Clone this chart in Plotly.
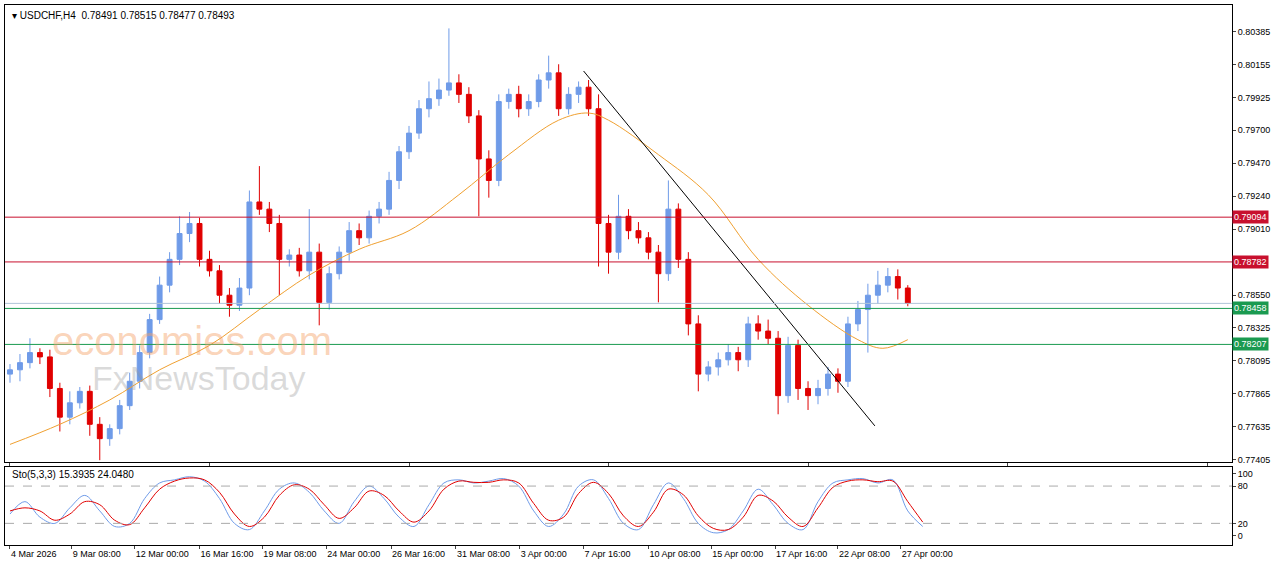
import plotly.graph_objects as go

# closing prices, one bar per 8h slot
closes = [0.7803, 0.7808, 0.7815, 0.7812, 0.7790, 0.7770, 0.7780, 0.7788, 0.7765, 0.7755,
          0.7762, 0.7778, 0.7795, 0.7815, 0.7838, 0.7862, 0.7880, 0.7898, 0.7905, 0.7880,
          0.7872, 0.7855, 0.7848, 0.7860, 0.7920, 0.7915, 0.7905, 0.7880, 0.7883, 0.7872,
          0.7885, 0.7850, 0.7870, 0.7885, 0.7900, 0.7895, 0.7910, 0.7915, 0.7935, 0.7955,
          0.7968, 0.7985, 0.7992, 0.7998, 0.8003, 0.7995, 0.7980, 0.7950, 0.7935, 0.7990,
          0.7995, 0.7985, 0.7990, 0.8005, 0.8010, 0.7985, 0.7995, 0.8000, 0.7985, 0.7905,
          0.7885, 0.7910, 0.7900, 0.7895, 0.7885, 0.7870, 0.7915, 0.7880, 0.7835, 0.7800,
          0.7805, 0.7810, 0.7815, 0.7810, 0.7835, 0.7830, 0.7825, 0.7785, 0.7820, 0.7790,
          0.7785, 0.7790, 0.7800, 0.7795, 0.7835, 0.7845, 0.7855, 0.7862, 0.7868, 0.7860,
          0.78493]
first_open = 0.7800
# wick sizes in pips above / below the body
wick_up = [4, 6, 10, 3, 5, 4, 8, 3, 4, 5, 3, 4, 6, 5, 4, 6, 5, 12, 8, 4,
           6, 4, 5, 7, 8, 25, 5, 6, 4, 5, 30, 6, 5, 4, 6, 5, 4, 5, 6, 4,
           5, 6, 12, 8, 38, 6, 5, 4, 6, 5, 4, 6, 5, 4, 12, 6, 5, 4, 5, 10,
           6, 15, 5, 6, 4, 5, 20, 4, 5, 6, 4, 5, 6, 4, 5, 6, 8, 5, 6, 4,
           5, 6, 5, 4, 5, 6, 8, 10, 6, 5, 2]
wick_dn = [6, 8, 4, 5, 6, 10, 5, 4, 8, 15, 5, 4, 3, 5, 4, 3, 5, 4, 6, 5,
           4, 6, 8, 4, 5, 4, 6, 25, 5, 4, 6, 16, 5, 4, 6, 5, 4, 5, 4, 6,
           5, 4, 6, 5, 4, 6, 5, 40, 12, 4, 5, 6, 5, 4, 6, 5, 4, 6, 5, 30,
           15, 5, 6, 4, 5, 20, 5, 6, 8, 12, 5, 6, 4, 8, 5, 6, 4, 13, 5, 8,
           10, 6, 5, 8, 4, 5, 30, 6, 5, 8, 2]

ma_x = [0, 5, 10, 15, 20, 25, 30, 35, 40, 45, 50, 55, 58, 60, 65, 70, 75, 80, 85, 87.5, 90]
ma_y = [0.7751, 0.7765, 0.7782, 0.7803, 0.7820, 0.7845, 0.7869, 0.7887, 0.7900, 0.7925,
        0.7953, 0.7977, 0.7982, 0.7977, 0.7953, 0.7925, 0.7880, 0.7848, 0.7824, 0.7818, 0.7824]

trend_x = [57.5, 86.7]
trend_y = [0.80113, 0.77639]

levels = [0.79094, 0.78782, 0.78458, 0.78207]
level_colors = ['#c8102e', '#c8102e', '#1a9a50', '#1a9a50']
last_price = 0.78493

stoch_main = [35, 55, 30, 20, 45, 65, 40, 15, 20, 60, 85, 90, 95, 88, 60, 20, 10, 40, 75, 85,
              70, 40, 20, 55, 80, 60, 30, 15, 50, 85, 90, 85, 88, 92, 80, 40, 15, 35, 80, 90,
              60, 20, 10, 50, 85, 60, 20, 5, 10, 40, 75, 50, 20, 10, 55, 85, 90, 92, 85, 90,
              40, 15]
stoch_signal = [40, 45, 40, 25, 35, 55, 50, 25, 18, 45, 75, 88, 93, 90, 70, 35, 15, 30, 65, 82,
                75, 50, 28, 45, 72, 65, 40, 22, 40, 75, 88, 86, 86, 90, 85, 52, 25, 30, 68, 86,
                68, 32, 15, 38, 75, 66, 32, 12, 10, 30, 65, 56, 30, 15, 45, 78, 88, 90, 87, 88,
                55, 22]
stoch_x = [i * 1.5 for i in range(len(stoch_main))]

tick_pos = [0, 6.2, 12.5, 19, 25.3, 31.7, 38.2, 44.7, 51.1, 57.5, 64, 70.3, 76.7, 83, 89.3]
tick_text = ['4 Mar 2026', '9 Mar 08:00', '12 Mar 00:00', '16 Mar 16:00', '19 Mar 08:00',
             '24 Mar 00:00', '26 Mar 16:00', '31 Mar 08:00', '3 Apr 00:00', '7 Apr 16:00',
             '10 Apr 08:00', '15 Apr 00:00', '17 Apr 16:00', '22 Apr 08:00', '27 Apr 00:00']
price_ticks = [0.80385, 0.80155, 0.79925, 0.79700, 0.79470, 0.79240, 0.79010,
               0.78550, 0.78325, 0.78095, 0.77865, 0.77635, 0.77405]

opens = [first_open] + closes[:-1]
highs = [max(o, c) + w / 10000 for o, c, w in zip(opens, closes, wick_up)]
lows = [min(o, c) - w / 10000 for o, c, w in zip(opens, closes, wick_dn)]
idx = list(range(len(closes)))

fig = go.Figure()
fig.add_trace(go.Candlestick(x=idx, open=opens, high=highs, low=lows, close=closes,
                             increasing=dict(line=dict(color='#6f9be8', width=1), fillcolor='#6f9be8'),
                             decreasing=dict(line=dict(color='#e00000', width=1), fillcolor='#e00000'),
                             whiskerwidth=0, xaxis='x', yaxis='y'))
fig.add_trace(go.Scatter(x=ma_x, y=ma_y, mode='lines', line=dict(color='#f0a030', width=1),
                         line_shape='spline', xaxis='x', yaxis='y'))
fig.add_trace(go.Scatter(x=trend_x, y=trend_y, mode='lines', line=dict(color='black', width=1),
                         xaxis='x', yaxis='y'))
fig.add_trace(go.Scatter(x=stoch_x, y=stoch_main, mode='lines', line=dict(color='#6f9be8', width=1),
                         line_shape='spline', xaxis='x2', yaxis='y2'))
fig.add_trace(go.Scatter(x=stoch_x, y=stoch_signal, mode='lines', line=dict(color='#e00000', width=1),
                         line_shape='spline', xaxis='x2', yaxis='y2'))

for lv, col in zip(levels, level_colors):
    fig.add_shape(type='line', xref='x domain', yref='y', x0=0, x1=1, y0=lv, y1=lv,
                  line=dict(color=col, width=1))
    fig.add_annotation(xref='paper', yref='y', x=1.0, y=lv, xanchor='left', text='%.5f' % lv,
                       showarrow=False, bgcolor=col, font=dict(color='white', size=9),
                       borderpad=1)
fig.add_shape(type='line', xref='x domain', yref='y', x0=0, x1=1, y0=last_price, y1=last_price,
              line=dict(color='#b0c4d8', width=1))
for lv in [20, 80]:
    fig.add_shape(type='line', xref='x2 domain', yref='y2', x0=0, x1=1, y0=lv, y1=lv,
                  line=dict(color='#aaaaaa', width=1, dash='dash'))

fig.add_annotation(xref='paper', yref='paper', x=0.004, y=0.995, xanchor='left', yanchor='top',
                   text='▾ USDCHF,H4  0.78491 0.78515 0.78477 0.78493', showarrow=False,
                   font=dict(size=10, color='black'))
fig.add_annotation(xref='paper', yref='paper', x=0.004, y=0.148, xanchor='left', yanchor='top',
                   text='Sto(5,3,3) 15.3935 24.0480', showarrow=False,
                   font=dict(size=10, color='black'))
fig.add_annotation(xref='x', yref='y', x=4, y=0.7823, xanchor='left', text='economies.com',
                   showarrow=False, font=dict(size=40, color='rgba(245,160,100,0.45)', family='Arial'))
fig.add_annotation(xref='x', yref='y', x=8, y=0.7797, xanchor='left', text='FxNewsToday',
                   showarrow=False, font=dict(size=34, color='rgba(150,150,150,0.35)', family='Arial'))

axis_common = dict(showgrid=False, zeroline=False, showline=True, linecolor='black', mirror=True,
                   ticks='outside', ticklen=3, tickfont=dict(size=9, color='black'),
                   automargin=False, tickangle=0)
fig.update_layout(
    width=1280, height=567, paper_bgcolor='white', plot_bgcolor='white', showlegend=False,
    margin=dict(l=5, r=48, t=5, b=20),
    font=dict(family='Liberation Sans, Arial'),
    xaxis=dict(axis_common, range=[-0.5, 122.5], domain=[0, 1], anchor='y',
               showticklabels=False, rangeslider=dict(visible=False)),
    yaxis=dict(axis_common, domain=[0.157, 1], range=[0.77388, 0.80573], side='right',
               tickvals=price_ticks, ticktext=['%.5f' % v for v in price_ticks]),
    xaxis2=dict(axis_common, range=[-0.5, 122.5], domain=[0, 1], anchor='y2',
                tickvals=tick_pos, ticktext=tick_text, ticklabelposition='outside right'),
    yaxis2=dict(axis_common, domain=[0.004, 0.148], range=[-14.5, 111], side='right',
                tickvals=[0, 20, 80, 100]),
)

fig.write_html("out.html", config={'displayModeBar': False},
               post_script="document.body.style.margin='0';")
